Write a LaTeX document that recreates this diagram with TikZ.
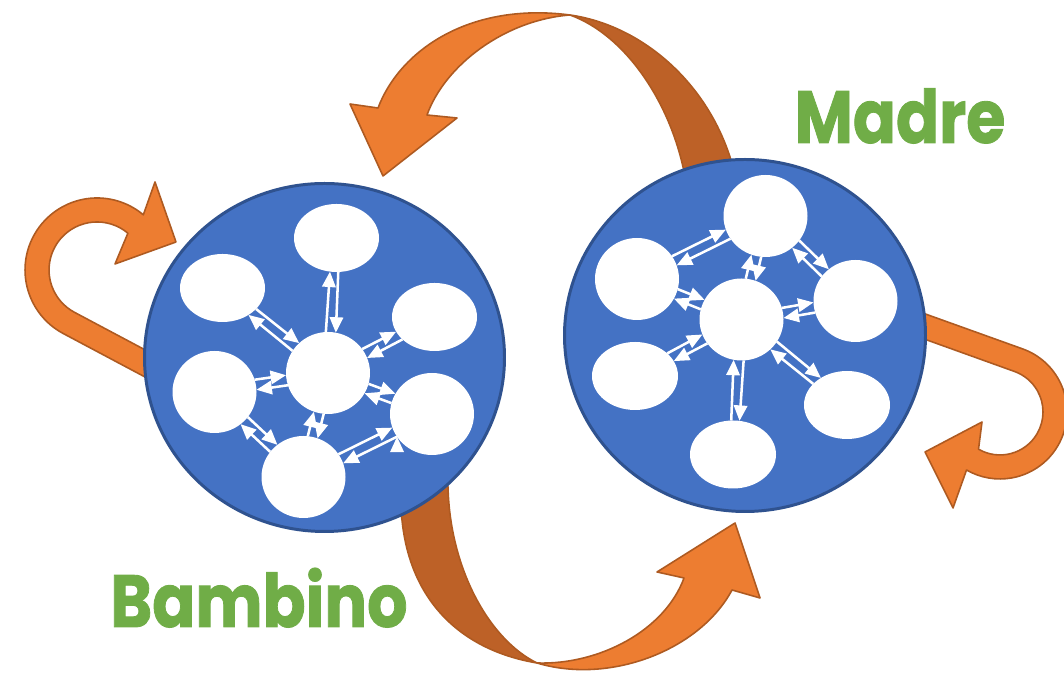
\documentclass[tikz,border=0pt]{standalone}
\usepackage{fontspec}
\newfontfamily\tagfont{Poppins}[BoldFeatures={FakeBold=1.2}]
\usepackage{xcolor}
\usetikzlibrary{shapes.geometric, arrows.meta, positioning}
\definecolor{cellfill}{HTML}{4472C4}
\definecolor{cellborder}{HTML}{2F528F}
\definecolor{ribbonfront}{HTML}{ED7D31}
\definecolor{ribbonback}{HTML}{BD6127}
\definecolor{ribbonline}{HTML}{AE5A21}
\definecolor{leafgreen}{HTML}{70AD47}

\begin{document}
\begin{tikzpicture}[x=0.1mm, y=-0.1mm,
    cell/.style={ellipse, draw=cellborder, fill=cellfill, line width=0.85pt},
    bubble/.style={ellipse, fill=white, inner sep=0pt, outer sep=0pt,
                   minimum width=8.4mm, minimum height=8.2mm},
    flatbubble/.style={bubble, minimum width=8.5mm, minimum height=6.8mm},
    link/.style={color=white, line width=0.72pt,
                 -{Triangle[length=4.4pt,width=3.8pt]}},
    ribbon/.style={draw=ribbonline, fill=ribbonfront, line width=0.45pt, line join=round},
    ribbonrear/.style={ribbon, fill=ribbonback},
    tag/.style={font=\tagfont\bfseries\fontsize{21}{21}\selectfont,
                text=leafgreen, inner sep=0pt, xscale=0.86}]
    \useasboundingbox (0,0) rectangle (1064,676);

    % Add the loops and ribbons (behind the cells)
    \draw[ribbon] (177.6,394.3) -- (62.8,333.3)
        arc[start angle=-241.6, end angle=-50, radius=72]
        -- (155,182) -- (176,242) -- (115,264) -- (127.9,233.2)
        arc[start angle=-50, end angle=-241.6, radius=48]
        -- (197.8,377.9) -- cycle;
    \draw[ribbon] (900.3,305) -- (1022.6,348.9)
        arc[start angle=-70.3, end angle=120, radius=67]
        -- (953,508) -- (925,452) -- (982,422) -- (978.5,449.2)
        arc[start angle=120, end angle=-70.3, radius=43]
        -- (896.9,329.2) -- cycle;
    \draw[ribbonrear] (690,190) -- (683,167)
        .. controls (668,100) and (625,35) .. (570,15)
        .. controls (640,25) and (705,80) .. (730,157) -- (737,185) -- cycle;
    \draw[ribbon] (570,15) .. controls (470,2) and (400,50) .. (378,108)
        -- (350,104) -- (383,176) -- (457,118) -- (427,115)
        .. controls (445,65) and (505,20) .. (570,15) -- cycle;
    \draw[ribbonrear] (398,495) -- (402,520)
        .. controls (410,600) and (460,650) .. (537,663)
        .. controls (490,640) and (450,570) .. (448,487) -- (446,470) -- cycle;
    \draw[ribbon] (537,663) .. controls (610,685) and (700,650) .. (732,590)
        -- (760,598) -- (735,523) -- (657,572) -- (684,578)
        .. controls (665,630) and (600,665) .. (537,663) -- cycle;

    % Add the cells
    \node[cell,
          minimum width=36.0mm,
          minimum height=34.8mm] (bambino) at (324.5,357.5) {};
    \node[cell,
          minimum width=36.1mm,
          minimum height=35.2mm] (madre) at (745,335.5) {};

    % Bambino states
    \node[flatbubble] (bt) at (336.5,238) {};
    \node[flatbubble] (bul) at (222.5,288) {};
    \node[flatbubble] (bru) at (434.5,317) {};
    \node[bubble] (bc) at (328,373) {};
    \node[bubble] (bl) at (214.5,392) {};
    \node[bubble] (brl) at (432,414) {};
    \node[bubble] (bb) at (303.5,477) {};

    % Madre states
    \node[bubble] (mt) at (765.5,216) {};
    \node[bubble] (mlu) at (637,279) {};
    \node[bubble] (mc) at (741.5,319.5) {};
    \node[bubble] (mr) at (855.5,301) {};
    \node[flatbubble, minimum width=8.6mm] (mll) at (635,376) {};
    \node[flatbubble, minimum width=8.6mm] (mrl) at (847,405) {};
    \node[flatbubble, minimum width=8.6mm] (mb) at (733,454.5) {};

    \draw[link]
        (bc.93) edge (bt.259)     (bt.273) edge (bc.79)
        (bc.148) edge (bul.314)   (bul.328) edge (bc.134)
        (bc.35) edge (bru.201)    (bru.215) edge (bc.21)
        (bc.197) edge (bl.3)      (bl.17) edge (bc.183)
        (bc.345) edge (brl.151)   (brl.165) edge (bc.331)
        (bc.264) edge (bb.70)     (bb.84) edge (bc.250)
        (bl.323) edge (bb.129)    (bb.143) edge (bl.309)
        (bb.33) edge (brl.199)    (brl.213) edge (bb.19);

    \draw[link]
        (mc.84) edge (mt.250)     (mt.264) edge (mc.70)
        (mc.166) edge (mlu.332)   (mlu.346) edge (mc.152)
        (mc.16) edge (mr.182)     (mr.196) edge (mc.2)
        (mc.215) edge (mll.21)    (mll.35) edge (mc.201)
        (mc.328) edge (mrl.134)   (mrl.148) edge (mc.314)
        (mc.273) edge (mb.79)     (mb.93) edge (mc.259)
        (mlu.33) edge (mt.199)    (mt.213) edge (mlu.19)
        (mt.324) edge (mr.130)    (mr.144) edge (mt.310);

    % Labels
    \node[tag, anchor=base] (madrelabel) at (900,143) {Madre};
    \node[tag, anchor=base] (bambinolabel) at (259,627) {Bambino};
\end{tikzpicture}
\end{document}
